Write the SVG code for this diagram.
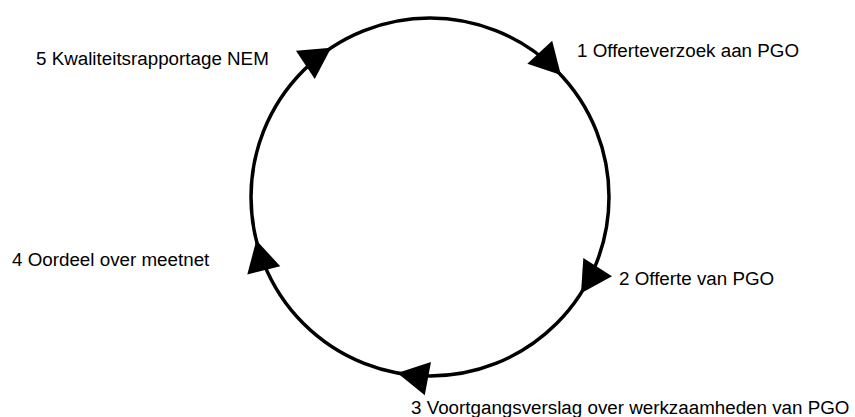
<svg xmlns="http://www.w3.org/2000/svg" width="855" height="417" viewBox="0 0 855 417">
<style>
.lbl{font-family:"Liberation Sans",Arial,sans-serif;font-size:18.8px;fill:#000}
.ring{fill:none;stroke:#000;stroke-width:3.5}
.head{fill:#000}
</style>
<defs>
<polygon id="ah" class="head" points="0,0 -31,-17 -31,17"/>
</defs>
<rect width="855" height="417" fill="#fff"/>
<g id="connectors">
<circle class="ring" cx="430" cy="197" r="179"/>
<use href="#ah" transform="translate(560.9,74.9) rotate(47)"/>
<use href="#ah" transform="translate(581,293.2) rotate(122.5)"/>
<use href="#ah" transform="translate(397.4,373) rotate(190.5)"/>
<use href="#ah" transform="translate(256.3,240.3) rotate(256)"/>
<use href="#ah" transform="translate(331.2,47.7) rotate(-33.5)"/>
</g>
<g id="n1"><text class="lbl" x="577" y="57">1 Offerteverzoek aan PGO</text></g>
<g id="n2"><text class="lbl" x="619" y="285">2 Offerte van PGO</text></g>
<g id="n3"><text class="lbl" x="411" y="414">3 Voortgangsverslag over werkzaamheden van PGO</text></g>
<g id="n4"><text class="lbl" x="12" y="266">4 Oordeel over meetnet</text></g>
<g id="n5"><text class="lbl" x="36" y="65">5 Kwaliteitsrapportage NEM</text></g>
</svg>
